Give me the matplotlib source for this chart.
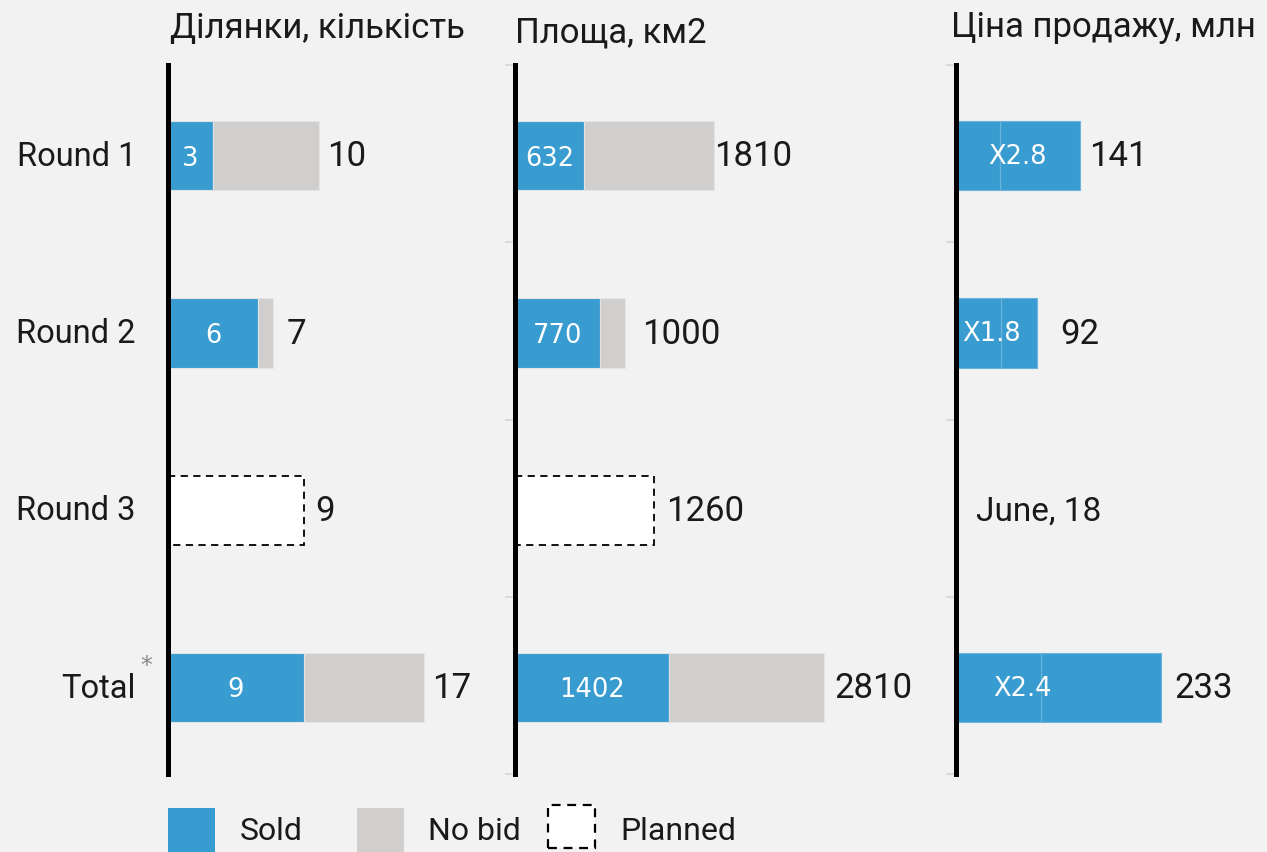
import numpy as np
import matplotlib
matplotlib.use("Agg")
import matplotlib.pyplot as plt
from matplotlib.patches import Rectangle

# ---------------- data ----------------
categories = ["Round 1", "Round 2", "Round 3", "Total"]
plots_sold = [3, 6, np.nan, 9]
plots_total = [10, 7, 9, 17]
area_sold = [632, 770, np.nan, 1402]
area_total = [1810, 1000, 1260, 2810]
price_total = [141, 92, np.nan, 233]
price_mult = [2.8, 1.8, np.nan, 2.4]
planned = [False, False, True, False]
round3_note = "June, 18"
titles = ["Ділянки, кількість", "Площа, км2", "Ціна продажу, млн"]
legend_labels = ["Sold", "No bid", "Planned"]

# ---------------- style ----------------
W, H = 1267, 853
BG = "#f2f2f2"
BLUE = "#399cd0"
GREY = "#d0cfcd"
TXT = "#1a1a1a"
FONT = ["Roboto", "DejaVu Sans"]
INNER_FONT = ["DejaVu Sans"]
plt.rcParams["font.family"] = FONT

fig = plt.figure(figsize=(W / 100, H / 100), dpi=100, facecolor=BG)


def fx(px):
    return px / W


def fy(py):
    return 1 - py / H


ax_top, ax_bot = 66, 775
panels = [  # left px, width px, xmax
    (168, 330, 21.9),
    (515, 420, 3820),
    (956, 311, 354),
]
axes = []
for left, width, xmax in panels:
    ax = fig.add_axes([fx(left), fy(ax_bot), fx(width), (ax_bot - ax_top) / H])
    ax.set_facecolor("none")
    ax.set_xlim(0, xmax)
    ax.set_ylim(3.5, -0.5)
    for s in ["top", "right", "bottom"]:
        ax.spines[s].set_visible(False)
    ax.spines["left"].set_linewidth(3.6)
    ax.spines["left"].set_color("black")
    ax.spines["left"].set_zorder(5)
    ax.set_xticks([])
    axes.append(ax)

bh = 0.39
ys = np.arange(len(categories))
yc = ys + 0.012  # slight downward nudge of bars within bands

# offsets (pixels) for value labels to the right of bars
out_off = [[8, 13, 12, 8], [0, 17, 13, 10], [9, 23, 20, 14]]
inner_shift = [0, -5, -36]


def count_panel(ax, sold, total, off):
    for i, y in enumerate(yc):
        if planned[i]:
            ax.barh(y, total[i], height=bh, color="white", edgecolor="black",
                    linestyle=(0, (4, 3)), linewidth=1.3, zorder=2)
        else:
            ax.barh(y, sold[i], height=bh, color=BLUE, edgecolor="#e4e4e4",
                    linewidth=0.8, zorder=2)
            ax.barh(y, total[i] - sold[i], left=sold[i], height=bh, color=GREY,
                    edgecolor="#e4e4e4", linewidth=0.8, zorder=2)
            ax.text(sold[i] / 2, y + 0.01, f"{sold[i]:g}", color="white",
                    ha="center", va="center", fontsize=18.5, family=INNER_FONT,
                    zorder=3)
        ax.annotate(f"{total[i]:g}", (total[i], y), xytext=(off[i], 0),
                    textcoords="offset pixels", ha="left", va="center",
                    fontsize=25, color=TXT)


count_panel(axes[0], plots_sold, plots_total, out_off[0])
count_panel(axes[1], area_sold, area_total, out_off[1])

# price panel
ax = axes[2]
for i, y in enumerate(yc):
    if np.isnan(price_total[i]):
        ax.annotate(round3_note, (0, y), xytext=(out_off[2][i], 0),
                    textcoords="offset pixels", ha="left", va="center",
                    fontsize=24, color=TXT)
        continue
    base = price_total[i] / price_mult[i]
    ax.barh(y, base, height=bh, color=BLUE, edgecolor="#6db3dc", linewidth=0.8,
            zorder=2)
    ax.barh(y, price_total[i] - base, left=base, height=bh, color=BLUE,
            edgecolor="#6db3dc", linewidth=0.8, zorder=2)
    ax.annotate(f"X{price_mult[i]:g}", (price_total[i] / 2, y),
                xytext=(inner_shift[min(i, 2)], 0),
                textcoords="offset pixels", color="white", ha="center",
                va="center", fontsize=18.5, family=INNER_FONT, zorder=3)
    ax.annotate(f"{price_total[i]:g}", (price_total[i], y), xytext=(out_off[2][i], 0),
                textcoords="offset pixels", ha="left", va="center",
                fontsize=25, color=TXT)

# category labels
axes[0].set_yticks([])
for y, lab in zip(yc, categories):
    axes[0].annotate(lab, (0, y), xytext=(-32, 0), textcoords="offset pixels",
                     ha="right", va="center", fontsize=23.5, color=TXT,
                     annotation_clip=False)
for a in axes[1:]:
    a.set_yticks([-0.5, 0.5, 1.5, 2.5, 3.5])
    a.set_yticklabels([])
    a.tick_params(axis="y", length=7, width=1.2, color="#d6d6d6")

# asterisk on Total
fig.text(fx(146), fy(666), "*", fontsize=17, color="#888888", ha="center",
         va="center", family=["DejaVu Sans"])

# titles
title_pos = [(170, 28), (515, 33), (951, 28)]
for t, (x, y) in zip(titles, title_pos):
    fig.text(fx(x), fy(y), t, fontsize=25, ha="left", va="center", color=TXT)

# legend
sq = 47
leg_items = [(168, BLUE, None), (357, GREY, None), (548, "white", "dashed")]
text_x = [240, 428, 620]
for (x, c, ls), lbl, tx in zip(leg_items, legend_labels, text_x):
    if ls:
        r = Rectangle((fx(x), fy(849)), fx(sq), 43 / H, facecolor=c,
                      edgecolor="black", linestyle=(0, (4, 3)), linewidth=1.6,
                      transform=fig.transFigure)
    else:
        r = Rectangle((fx(x), fy(853)), fx(sq), 44 / H, facecolor=c,
                      edgecolor="none", transform=fig.transFigure)
    fig.add_artist(r)
    fig.text(fx(tx), fy(832), lbl, fontsize=23, ha="left", va="center",
             color=TXT)

fig.savefig("out.png", dpi=100, facecolor=BG)
